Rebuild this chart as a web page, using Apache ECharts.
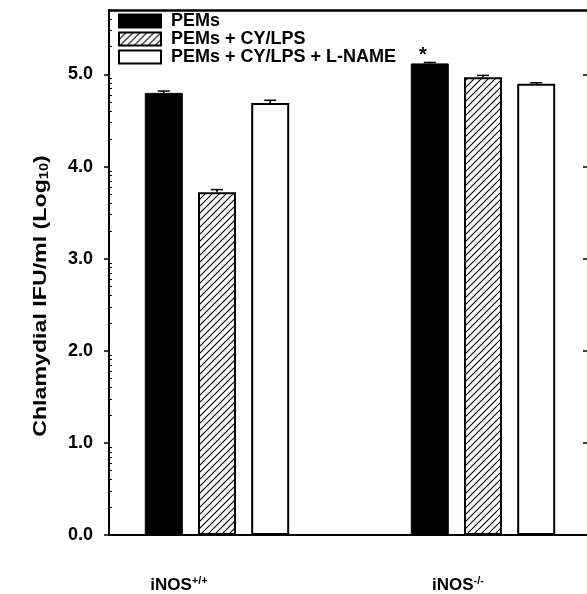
<!DOCTYPE html>
<html>
<head>
<meta charset="utf-8">
<script src="https://cdn.jsdelivr.net/npm/echarts@6/dist/echarts.min.js"></script>
<style>
html,body{margin:0;padding:0;background:#fff;}
#chart{width:587px;height:594px;}
</style>
</head>
<body>
<div id="chart"></div>
<script>
// ---- data (log10 units) ----
const groupBase = ['iNOS', 'iNOS'];
const groupSup = ['+/+', '-/-'];
const groupX = [1, 2];
const seriesNames = ['PEMs', 'PEMs + CY/LPS', 'PEMs + CY/LPS + L-NAME'];
const pems = [4.80, 5.12];
const pemsCyLps = [3.72, 4.97];
const pemsCyLpsLname = [4.69, 4.90];
const errPems = [0.02, 0.01];
const errCyLps = [0.03, 0.02];
const errLname = [0.03, 0.01];
const significance = ['', '*'];
const yMajorTicks = [0, 1, 2, 3, 4, 5];
const yMax = 5.7;
const yTitle = 'Chlamydial IFU/ml (Log';
const yTitleSub = '10';

// log-decade minor tick positions
const yMinorTicks = [];
for (let d = 0; d <= 5; d++) {
  for (let k = 2; k <= 9; k++) {
    const t = d + Math.log10(k);
    if (t < yMax) yMinorTicks.push(t);
  }
}

const FONT = 'Liberation Sans';
const BAR_W = 38;
const GAP = 0.4;
const GAP_PX = BAR_W * GAP;

// diagonal hatch pattern "/"
function hatchPattern() {
  const s = 7;
  const c = document.createElement('canvas');
  c.width = s; c.height = s;
  const g = c.getContext('2d');
  g.fillStyle = '#fff';
  g.fillRect(0, 0, s, s);
  g.strokeStyle = '#000';
  g.lineWidth = 1.1;
  g.beginPath();
  g.moveTo(-1, s + 1); g.lineTo(s + 1, -1);
  g.moveTo(-1, 1); g.lineTo(1, -1);
  g.moveTo(s - 1, s + 1); g.lineTo(s + 1, s - 1);
  g.stroke();
  return {image: c, repeat: 'repeat'};
}

const chart = echarts.init(document.getElementById('chart'), null, {renderer: 'canvas'});

function pairs(vals) { return vals.map((v, i) => [groupX[i], v]); }
const errData = [];
[[pems, errPems], [pemsCyLps, errCyLps], [pemsCyLpsLname, errLname]].forEach(([vals, errs], k) => {
  vals.forEach((v, i) => errData.push([groupX[i], v, errs[i], k]));
});

const supPad = [76, 50];

const option = {
  animation: false,
  backgroundColor: '#fff',
  textStyle: {fontFamily: FONT},
  grid: {left: 109, right: 0, top: 10, bottom: 59},
  legend: {
    data: seriesNames,
    orient: 'vertical',
    left: 118, top: 12, padding: 0,
    itemWidth: 42, itemHeight: 13, itemGap: 0,
    icon: 'rect',
    selectedMode: false,
    textStyle: {fontFamily: FONT, fontWeight: 'bold', fontSize: 18, color: '#000', lineHeight: 16, padding: [0, 0, 0, 5]}
  },
  graphic: [{
    type: 'text', x: 41, y: 296, rotation: Math.PI / 2, scaleX: 1.22,
    style: {
      text: '{a|' + yTitle + '}{s|' + yTitleSub + '}{a|)}',
      align: 'center', verticalAlign: 'middle',
      rich: {
        a: {fontFamily: FONT, fontWeight: 'bold', fontSize: 19, fill: '#000'},
        s: {fontFamily: FONT, fontWeight: 'bold', fontSize: 12, fill: '#000', padding: [8, 0, 0, 0]}
      }
    }
  }],
  xAxis: [
    {
      type: 'value', min: 0.594, max: 2.391,
      splitLine: {show: false},
      axisLine: {show: true, lineStyle: {color: '#000', width: 2}},
      axisTick: {show: false},
      axisLabel: {
        customValues: groupX,
        margin: 40,
        formatter: function (v) {
          const i = groupX.indexOf(Math.round(v));
          if (i < 0) return '';
          return '{n|' + groupBase[i] + '}{p' + i + '|' + groupSup[i] + '}';
        },
        rich: {
          n: {fontFamily: FONT, fontWeight: 'bold', fontSize: 17, color: '#000'},
          p0: {fontFamily: FONT, fontWeight: 'bold', fontSize: 11, color: '#000', padding: [0, supPad[0], 9, 0]},
          p1: {fontFamily: FONT, fontWeight: 'bold', fontSize: 11, color: '#000', padding: [0, supPad[1], 9, 0]}
        }
      }
    },
    {
      type: 'value', min: 0.594, max: 2.391, position: 'top',
      splitLine: {show: false},
      axisLine: {show: true, onZero: false, lineStyle: {color: '#000', width: 2.5}},
      axisTick: {show: false},
      axisLabel: {show: false}
    }
  ],
  yAxis: [
    {
      type: 'value', min: 0, max: yMax, position: 'left',
      splitLine: {show: false},
      axisLine: {show: true, onZero: false, lineStyle: {color: '#000', width: 2}},
      axisTick: {show: true, inside: false, length: 5, customValues: yMajorTicks, lineStyle: {color: '#000', width: 1.5}},
      axisLabel: {
        customValues: yMajorTicks, margin: 16,
        formatter: v => v.toFixed(1),
        fontFamily: FONT, fontWeight: 'bold', fontSize: 18, color: '#000'
      }
    },
    {
      type: 'value', min: 0, max: yMax, position: 'left', offset: 0,
      splitLine: {show: false},
      axisLine: {show: false, onZero: false},
      axisTick: {show: true, inside: true, length: 3, customValues: yMinorTicks, lineStyle: {color: '#000', width: 1}},
      axisLabel: {show: false}
    },
    {
      type: 'value', min: 0, max: yMax, position: 'right',
      splitLine: {show: false},
      axisLine: {show: false, onZero: false},
      axisTick: {show: true, inside: true, length: 4, customValues: yMajorTicks, lineStyle: {color: '#000', width: 1.5}},
      axisLabel: {show: false}
    }
  ],
  series: [
    {
      name: seriesNames[0], type: 'bar', barWidth: BAR_W, barGap: (GAP * 100) + '%',
      data: pairs(pems),
      itemStyle: {color: '#000', borderColor: '#000', borderWidth: 1},
      label: {
        show: true, position: 'top', distance: 2, offset: [-7, 4],
        formatter: p => significance[p.dataIndex],
        fontFamily: FONT, fontWeight: 'bold', fontSize: 20, color: '#000'
      }
    },
    {
      name: seriesNames[1], type: 'bar', barWidth: BAR_W, barGap: (GAP * 100) + '%',
      data: pairs(pemsCyLps),
      itemStyle: {color: hatchPattern(), borderColor: '#000', borderWidth: 2}
    },
    {
      name: seriesNames[2], type: 'bar', barWidth: BAR_W, barGap: (GAP * 100) + '%',
      data: pairs(pemsCyLpsLname),
      itemStyle: {color: '#fff', borderColor: '#000', borderWidth: 2}
    },
    {
      type: 'custom', z: 5,
      data: errData,
      renderItem: function (params, api) {
        const x = api.value(0), v = api.value(1), e = api.value(2), k = api.value(3);
        const dx = (k - 1) * (BAR_W + GAP_PX);
        const p0 = api.coord([x, v]);
        const p1 = api.coord([x, v + e]);
        const cx = p0[0] + dx;
        const style = {stroke: '#000', lineWidth: 1.5};
        return {
          type: 'group',
          children: [
            {type: 'line', shape: {x1: cx, y1: p0[1], x2: cx, y2: p1[1]}, style: style},
            {type: 'line', shape: {x1: cx - 6, y1: p1[1], x2: cx + 6, y2: p1[1]}, style: style}
          ]
        };
      }
    }
  ]
};
chart.setOption(option);
</script>
</body>
</html>
